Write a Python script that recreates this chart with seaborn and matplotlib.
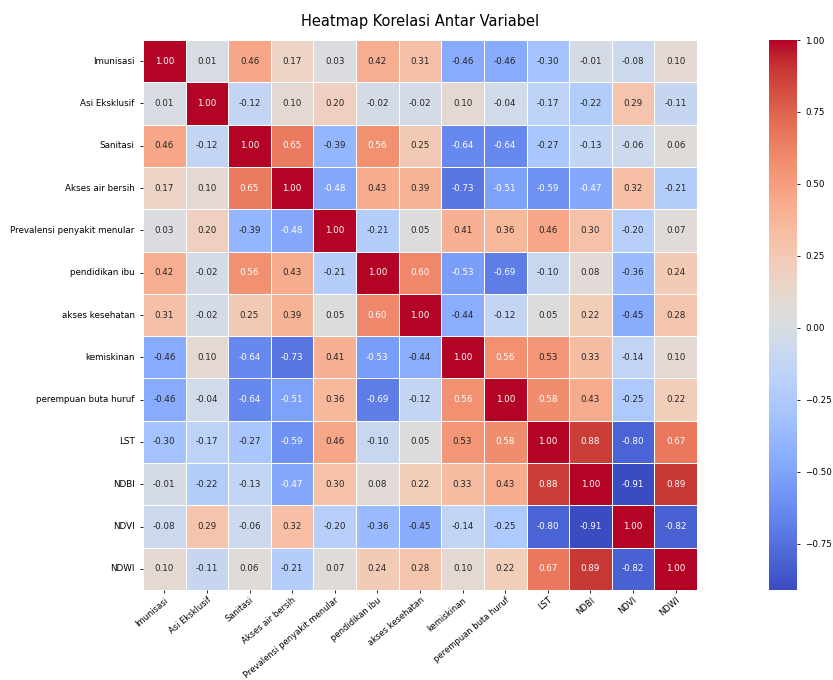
import numpy as np
import pandas as pd
import matplotlib
matplotlib.use("Agg")
import matplotlib.pyplot as plt
import seaborn as sns

labels = ["Imunisasi", "Asi Eksklusif", "Sanitasi", "Akses air bersih",
          "Prevalensi penyakit menular", "pendidikan ibu", "akses kesehatan",
          "kemiskinan", "perempuan buta huruf", "LST", "NDBI", "NDVI", "NDWI"]

r_imunisasi = [1.00, 0.01, 0.46, 0.17, 0.03, 0.42, 0.31, -0.46, -0.46, -0.30, -0.01, -0.08, 0.10]
r_asi = [0.01, 1.00, -0.12, 0.10, 0.20, -0.02, -0.02, 0.10, -0.04, -0.17, -0.22, 0.29, -0.11]
r_sanitasi = [0.46, -0.12, 1.00, 0.65, -0.39, 0.56, 0.25, -0.64, -0.64, -0.27, -0.13, -0.06, 0.06]
r_air = [0.17, 0.10, 0.65, 1.00, -0.48, 0.43, 0.39, -0.73, -0.51, -0.59, -0.47, 0.32, -0.21]
r_prev = [0.03, 0.20, -0.39, -0.48, 1.00, -0.21, 0.05, 0.41, 0.36, 0.46, 0.30, -0.20, 0.07]
r_pend = [0.42, -0.02, 0.56, 0.43, -0.21, 1.00, 0.60, -0.53, -0.69, -0.10, 0.08, -0.36, 0.24]
r_akses = [0.31, -0.02, 0.25, 0.39, 0.05, 0.60, 1.00, -0.44, -0.12, 0.05, 0.22, -0.45, 0.28]
r_miskin = [-0.46, 0.10, -0.64, -0.73, 0.41, -0.53, -0.44, 1.00, 0.56, 0.53, 0.33, -0.14, 0.10]
r_buta = [-0.46, -0.04, -0.64, -0.51, 0.36, -0.69, -0.12, 0.56, 1.00, 0.58, 0.43, -0.25, 0.22]
r_lst = [-0.30, -0.17, -0.27, -0.59, 0.46, -0.10, 0.05, 0.53, 0.58, 1.00, 0.88, -0.80, 0.67]
r_ndbi = [-0.01, -0.22, -0.13, -0.47, 0.30, 0.08, 0.22, 0.33, 0.43, 0.88, 1.00, -0.91, 0.89]
r_ndvi = [-0.08, 0.29, -0.06, 0.32, -0.20, -0.36, -0.45, -0.14, -0.25, -0.80, -0.91, 1.00, -0.82]
r_ndwi = [0.10, -0.11, 0.06, -0.21, 0.07, 0.24, 0.28, 0.10, 0.22, 0.67, 0.89, -0.82, 1.00]

rows = [r_imunisasi, r_asi, r_sanitasi, r_air, r_prev, r_pend, r_akses,
        r_miskin, r_buta, r_lst, r_ndbi, r_ndvi, r_ndwi]
corr = pd.DataFrame(rows, index=labels, columns=labels)

W, H = 833, 680
dpi = 100
fig = plt.figure(figsize=(W / dpi, H / dpi), dpi=dpi)
ax = fig.add_axes([143 / W, 1 - 590 / H, (697 - 143) / W, (590 - 40) / H])
cax = fig.add_axes([769 / W, 1 - 590 / H, 28 / W, (590 - 40) / H])

fs = 6.3
sns.heatmap(corr, annot=True, fmt=".2f", cmap="coolwarm", linewidths=0.4,
            linecolor="white", ax=ax, cbar_ax=cax, annot_kws={"size": fs})
ax.set_xticklabels(labels, rotation=40, ha="right", rotation_mode="anchor", fontsize=6.0)
ax.set_yticklabels(labels, rotation=0, fontsize=fs)
ax.tick_params(length=2.5, width=0.6)
ax.tick_params(axis="x", pad=1.5)
cax.tick_params(labelsize=fs, length=2.5, width=0.6)
for s in cax.spines.values():
    s.set_visible(False)
ax.set_title("Heatmap Korelasi Antar Variabel", fontsize=10.5, pad=10)

fig.savefig("out.png", dpi=dpi)
